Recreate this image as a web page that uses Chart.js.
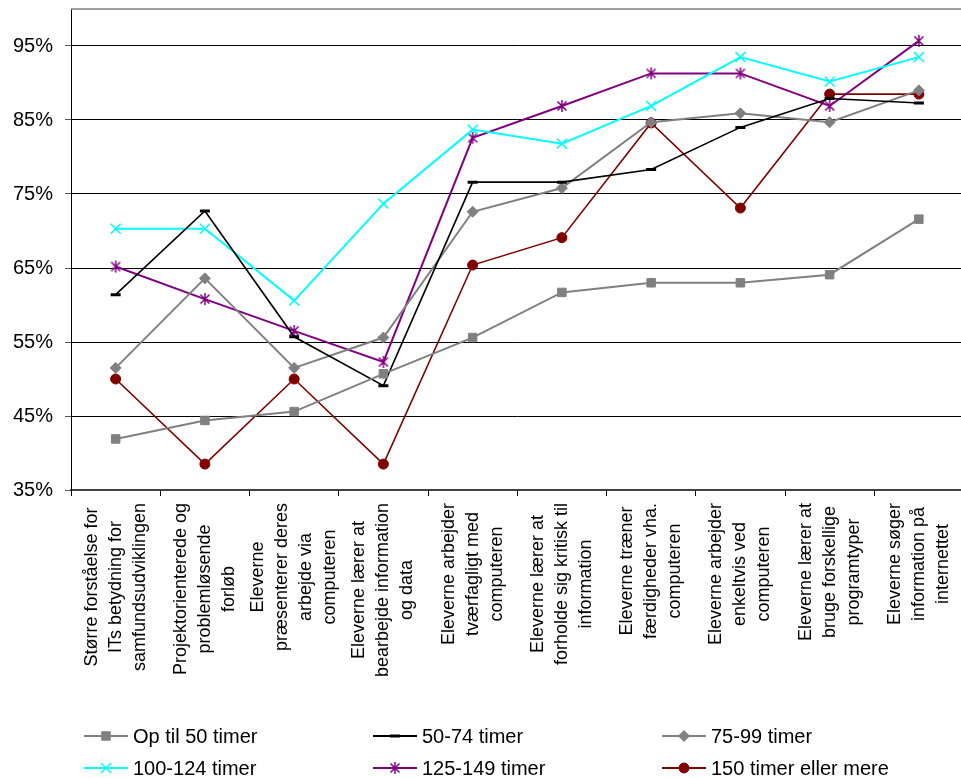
<!DOCTYPE html>
<html>
<head>
<meta charset="utf-8">
<script src="https://cdn.jsdelivr.net/npm/chart.js@4/dist/chart.umd.min.js"></script>
<style>
  html, body { margin: 0; padding: 0; background: #fff; overflow: hidden; }
  #wrap { width: 972px; height: 778px; }
</style>
</head>
<body>
<div id="wrap"><canvas id="chart" width="972" height="778"></canvas></div>
<script>
const categories = [
  ['Større forståelse for', 'ITs betydning for', 'samfundsudviklingen'],
  ['Projektorienterede og', 'problemløsende', 'forløb'],
  ['Eleverne', 'præsenterer deres', 'arbejde via', 'computeren'],
  ['Eleverne lærer at', 'bearbejde information', 'og data'],
  ['Eleverne arbejder', 'tværfagligt med', 'computeren'],
  ['Eleverne lærer at', 'forholde sig kritisk til', 'information'],
  ['Eleverne træner', 'færdigheder vha.', 'computeren'],
  ['Eleverne arbejder', 'enkeltvis ved', 'computeren'],
  ['Eleverne lærer at', 'bruge forskellige', 'programtyper'],
  ['Eleverne søger', 'information på', 'internettet'],
];

const seriesNames = ['Op til 50 timer', '50-74 timer', '75-99 timer', '100-124 timer', '125-149 timer', '150 timer eller mere'];

const op50    = [41.9, 44.4, 45.6, 50.7, 55.6, 61.7, 63.0, 63.0, 64.1, 71.6];
const t50_74  = [61.4, 72.7, 55.7, 49.1, 76.6, 76.6, 78.3, 84.0, 87.9, 87.3];
const t75_99  = [51.5, 63.6, 51.5, 55.6, 72.6, 75.8, 84.7, 85.9, 84.7, 89.0];
const t100_124 = [70.3, 70.3, 60.6, 73.7, 83.7, 81.8, 86.9, 93.5, 90.2, 93.5];
const t125_149 = [65.2, 60.8, 56.5, 52.3, 82.6, 86.9, 91.3, 91.3, 86.9, 95.7];
const t150    = [50.0, 38.5, 50.0, 38.5, 65.4, 69.1, 84.6, 73.1, 88.5, 88.5];

const yTicks = [35, 45, 55, 65, 75, 85, 95];

const FONT = '"Liberation Sans", Arial, sans-serif';

// Excel-like asterisk marker (vertical bar + X)
function starMarker(color) {
  const c = document.createElement('canvas');
  c.width = 14; c.height = 14;
  const g = c.getContext('2d');
  g.strokeStyle = color;
  g.lineWidth = 1.5;
  g.beginPath();
  g.moveTo(7, 1); g.lineTo(7, 13);
  g.moveTo(2.5, 2.5); g.lineTo(11.5, 11.5);
  g.moveTo(11.5, 2.5); g.lineTo(2.5, 11.5);
  g.stroke();
  return c;
}

function series(i, data, color, style, radius, pbw, width) {
  return {
    label: seriesNames[i],
    data: data,
    borderColor: color,
    backgroundColor: color,
    borderWidth: width,
    pointStyle: style,
    pointRadius: radius,
    pointBorderWidth: pbw,
    pointBackgroundColor: color,
    pointBorderColor: color,
    tension: 0,
  };
}

const datasets = [
  series(0, op50, '#808080', 'rect', 6, 1, 2),
  series(1, t50_74, '#000000', 'line', 5, 3, 1.6),
  series(2, t75_99, '#808080', 'rectRot', 5.5, 1, 2),
  series(3, t100_124, '#00ffff', 'crossRot', 7, 1.5, 2),
  series(4, t125_149, '#800080', starMarker('#800080'), 7, 1.5, 2),
  series(5, t150, '#800000', 'circle', 5, 1, 1.6),
];

const topBorder = {
  id: 'topBorder',
  afterDatasetsDraw(chart) {
    const { ctx, chartArea } = chart;
    ctx.save();
    ctx.strokeStyle = '#808080';
    ctx.lineWidth = 1.5;
    ctx.beginPath();
    ctx.moveTo(chartArea.left, chartArea.top);
    ctx.lineTo(chartArea.right, chartArea.top);
    ctx.stroke();
    ctx.restore();
  }
};

const xLabels = {
  id: 'xLabels',
  afterDraw(chart) {
    const { ctx, chartArea } = chart;
    const xs = chart.scales.x;
    ctx.save();
    ctx.font = '18px ' + FONT;
    ctx.fillStyle = '#000';
    ctx.textAlign = 'center';
    ctx.textBaseline = 'middle';
    chart.data.labels.forEach((lines, i) => {
      const px = xs.getPixelForTick(i);
      const maxW = Math.max(...lines.map(l => ctx.measureText(l).width));
      const cy = chartArea.bottom + 13 + maxW / 2;
      lines.forEach((line, j) => {
        ctx.save();
        ctx.translate(px + (j - (lines.length - 1) / 2) * 24, cy);
        ctx.rotate(-Math.PI / 2);
        ctx.fillText(line, 0, 0);
        ctx.restore();
      });
    });
    ctx.restore();
  }
};

const gridLegend = {
  id: 'gridLegend',
  afterDraw(chart) {
    const { ctx } = chart;
    const cols = [84, 373, 662];
    const rows = [736, 768];
    ctx.save();
    chart.data.datasets.forEach((ds, i) => {
      const x = cols[i % 3];
      const y = rows[Math.floor(i / 3)];
      ctx.strokeStyle = ds.borderColor;
      ctx.lineWidth = 2;
      ctx.beginPath();
      ctx.moveTo(x, y);
      ctx.lineTo(x + 44, y);
      ctx.stroke();
      ctx.fillStyle = ds.pointBackgroundColor;
      ctx.strokeStyle = ds.pointBorderColor;
      ctx.lineWidth = ds.pointBorderWidth;
      Chart.helpers.drawPoint(ctx, {
        pointStyle: ds.pointStyle, radius: ds.pointRadius,
        borderWidth: ds.pointBorderWidth, rotation: 0
      }, x + 22, y);
      ctx.fillStyle = '#000';
      ctx.font = '20px ' + FONT;
      ctx.textAlign = 'left';
      ctx.textBaseline = 'middle';
      ctx.fillText(ds.label, x + 49, y + 1);
    });
    ctx.restore();
  }
};

new Chart(document.getElementById('chart'), {
  type: 'line',
  data: { labels: categories, datasets },
  options: {
    responsive: false,
    animation: false,
    layout: { padding: { left: 1, top: 9, right: 2, bottom: 282 } },
    plugins: { legend: { display: false }, tooltip: { enabled: false } },
    scales: {
      x: {
        offset: true,
        ticks: { display: false },
        grid: { offset: true, drawOnChartArea: false, drawTicks: true, tickLength: 6, color: '#000' },
        border: { color: '#404040', width: 2 },
        afterFit(scale) {
          scale.paddingLeft = 0;
          scale.paddingRight = 0;
        },
      },
      y: {
        min: 35,
        max: 100,
        afterBuildTicks(scale) {
          scale.ticks = yTicks.map(v => ({ value: v }));
        },
        afterFit(scale) {
          scale.paddingTop = 0;
          scale.paddingBottom = 0;
        },
        ticks: {
          callback: v => v + '%',
          color: '#000',
          padding: 12,
          font: { family: FONT, size: 20 },
        },
        grid: { color: '#000', lineWidth: 1, tickLength: 6, tickColor: '#555' },
        border: { color: '#000', width: 1 },
      },
    },
  },
  plugins: [topBorder, xLabels, gridLegend],
});
</script>
</body>
</html>
